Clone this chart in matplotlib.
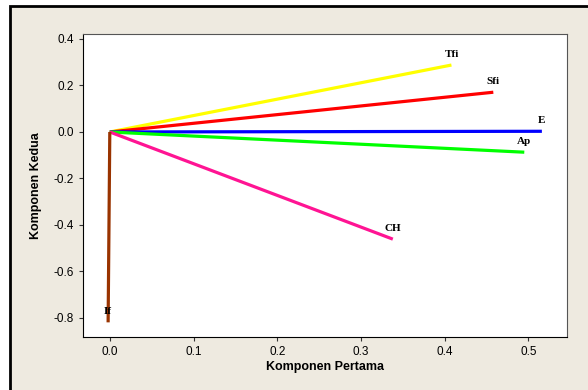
import matplotlib.pyplot as plt
from matplotlib.patches import Rectangle

# loading vectors (first and second component)
names = ['Tfi', 'Sfi', 'E', 'Ap', 'CH', 'If']
pc1 = [0.408, 0.458, 0.516, 0.495, 0.338, -0.002]
pc2 = [0.288, 0.171, 0.003, -0.087, -0.461, -0.819]
colors = ['#FFFF00', '#FF0000', '#0000FF', '#00FF00', '#FF1493', '#993300']

xticks = [0.0, 0.1, 0.2, 0.3, 0.4, 0.5]
yticks = [0.4, 0.2, 0.0, -0.2, -0.4, -0.6, -0.8]

plt.rcParams['font.family'] = ['Liberation Sans', 'DejaVu Sans']

fig = plt.figure(figsize=(5.88, 3.90), dpi=100)
fig.patch.set_facecolor('white')
# beige panel, border only visible at top/left (rest runs off the image)
fig.patches.append(Rectangle((10 / 588, -0.1), 1.2, 1.1 - 6 / 390, transform=fig.transFigure,
                             facecolor='#EEEAE0', edgecolor='black', linewidth=2, zorder=-5))

ax = fig.add_axes([83 / 588, 1 - 337 / 390, (567 - 83) / 588, (337 - 34) / 390])
ax.set_facecolor('white')
ax.set_zorder(2)

for n, x, y, c in zip(names, pc1, pc2, colors):
    ax.plot([0, x], [0, y], color=c, linewidth=2.3, solid_capstyle='butt')
    ax.annotate(n, (x, y), xytext=(0, 7.5), textcoords='offset points', ha='center', va='center',
                fontsize=8, fontweight='bold', family='Liberation Serif')

ax.set_xlim(-0.032, 0.546)
ax.set_ylim(-0.882, 0.4215)
ax.set_xticks(xticks)
ax.set_yticks(yticks)
ax.set_xticklabels([f'{v:.1f}' for v in xticks])
ax.set_yticklabels([f'{v:.1f}' for v in yticks])
ax.tick_params(labelsize=8.5, direction='out', length=3, color='#333333')
for s in ['top', 'right']:
    ax.spines[s].set_color('#555555')
for s in ['left', 'bottom']:
    ax.spines[s].set_color('black')
ax.set_xlabel('Komponen Pertama', fontsize=9, fontweight='bold', labelpad=2)
ax.set_ylabel('Komponen Kedua', fontsize=9, fontweight='bold', labelpad=8)

fig.savefig('out.png', dpi=100)
